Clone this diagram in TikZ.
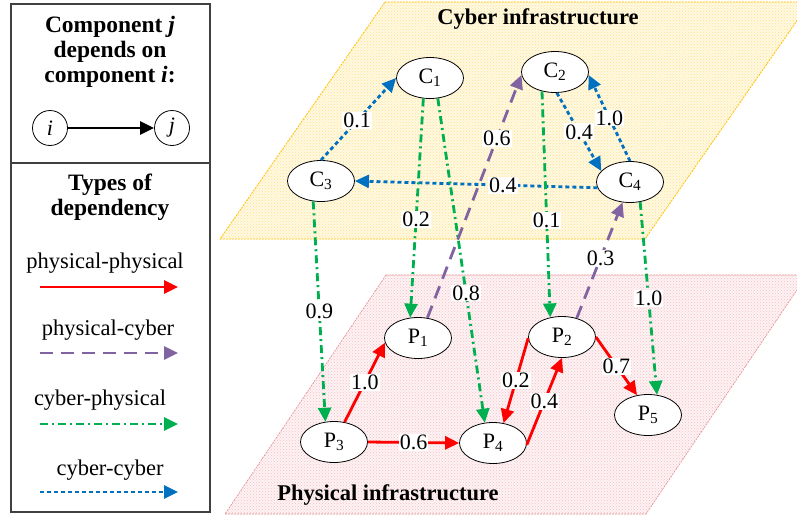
\documentclass[tikz,border=0pt]{standalone}
\usepackage{fontspec}
\setmainfont{Liberation Serif}
\usetikzlibrary{arrows.meta,shapes.geometric,patterns}

\definecolor{pp}{HTML}{FF0000}
\definecolor{pc}{HTML}{8064A2}
\definecolor{cp}{HTML}{00B050}
\definecolor{cc}{HTML}{0070C0}
\definecolor{cyberfill}{HTML}{FFF9E3}
\definecolor{cyberdot}{HTML}{FFE38A}
\definecolor{cyberedge}{HTML}{FFC000}
\definecolor{physfill}{HTML}{FDF3F4}
\definecolor{physdot}{HTML}{F5BFC4}
\definecolor{physedge}{HTML}{E48A8A}
\definecolor{boxline}{HTML}{404040}

\begin{document}
\begin{tikzpicture}[x=1pt,y=-1pt,
  comp/.style={ellipse,draw,line width=0.8pt,fill=white,minimum width=67pt,
    minimum height=41pt,inner sep=0pt,font=\fontsize{22}{24}\selectfont},
  wt/.style={fill=white,text=black,inner sep=1pt,font=\fontsize{22}{24}\selectfont},
  dep/.style={line width=2.8pt,-{Triangle[length=14pt,width=13pt]}},
  physphys/.style={dep,pp},
  physcyb/.style={dep,pc,dash pattern=on 13pt off 8pt},
  cybphys/.style={dep,cp,dash pattern=on 8pt off 4pt on 2pt off 4pt},
  cybcyb/.style={dep,cc,dash pattern=on 4pt off 3pt},
  legtext/.style={font=\fontsize{22.5}{25}\selectfont},
  legtitle/.style={font=\fontsize{23.5}{25}\selectfont\bfseries,align=center},
  planetitle/.style={font=\fontsize{22.5}{25}\selectfont\bfseries},
  plain/.style={circle,draw,line width=0.8pt,minimum size=35pt,inner sep=0pt,
    font=\fontsize{22}{24}\selectfont\itshape},
]
\useasboundingbox (0,0) rectangle (797,517);

% ---- the two infrastructure planes ----
\fill[cyberfill] (385,2) -- (810,2) -- (645,239) -- (220,239) -- cycle;
\fill[pattern=crosshatch dots,pattern color=cyberdot] (385,2) -- (810,2) -- (645,239) -- (220,239) -- cycle;
\draw[cyberedge,line width=0.8pt,dash pattern=on 2pt off 1pt] (385,2) -- (810,2) -- (645,239) -- (220,239) -- cycle;

\fill[physfill] (386,275) -- (807,275) -- (646,514) -- (225,514) -- cycle;
\fill[pattern=crosshatch dots,pattern color=physdot] (386,275) -- (807,275) -- (646,514) -- (225,514) -- cycle;
\draw[physedge,line width=0.6pt,dash pattern=on 2pt off 1pt] (386,275) -- (807,275) -- (646,514) -- (225,514) -- cycle;

\node[planetitle] (cybertitle) at (538,19) {Cyber infrastructure};
\node[planetitle] (phystitle) at (388,495) {Physical infrastructure};

% ---- components ----
\node[comp] (C1) at (430,78) {C\textsubscript{1}};
\node[comp] (C2) at (555,72) {C\textsubscript{2}};
\node[comp] (C3) at (321,181) {C\textsubscript{3}};
\node[comp] (C4) at (630,182) {C\textsubscript{4}};
\node[comp] (P1) at (418,338) {P\textsubscript{1}};
\node[comp] (P2) at (562,337) {P\textsubscript{2}};
\node[comp] (P3) at (334,442) {P\textsubscript{3}};
\node[comp] (P4) at (493,443) {P\textsubscript{4}};
\node[comp] (P5) at (648,415) {P\textsubscript{5}};

% ---- cyber-cyber ----
\draw[cybcyb] (C3.north) -- node[wt,pos=0.48]{0.1} (C1.west);
\draw[cybcyb] (C2.-85) -- node[wt,pos=0.5]{0.4} (C4.159);
\draw[cybcyb] (C4.north) -- node[wt,pos=0.5]{1.0} (C2.-5);
\draw[cybcyb] (C4.190) -- node[wt,pos=0.39]{0.4} (C3.east);

% ---- cyber-physical ----
\draw[cybphys] (C1.-108) -- node[wt,pos=0.55]{0.2} (P1.111);
\draw[cybphys] (C1.-69) -- node[wt,pos=0.6]{0.8} (P4.112);
\draw[cybphys] (C3.-111) -- node[wt,pos=0.5]{0.9} (P3.113);
\draw[cybphys] (C2.-124) -- node[wt,pos=0.57]{0.1} (P2.121);
\draw[cybphys] (C4.-63) -- node[wt,pos=0.5]{1.0} (P5.66);

% ---- physical-cyber ----
\draw[physcyb] (P1.65) -- node[wt,pos=0.74]{0.6} (C2.185);
\draw[physcyb] (P2.52) -- node[wt,pos=0.52]{0.3} (C4.-110);

% ---- physical-physical ----
\draw[physphys] (P3.62) -- node[wt,pos=0.5]{1.0} (P1.188);
\draw[physphys] (P3.east) -- node[wt,pos=0.5]{0.6} (P4.west);
\draw[physphys] (P2.182) -- node[wt,pos=0.5]{0.2} (P4.62);
\draw[physphys] (P4.-3) -- node[wt,pos=0.5]{0.4} (P2.south);
\draw[physphys] (P2.0) -- node[wt,pos=0.5]{0.7} (P5.119);

% ---- legend ----
\draw[boxline,line width=1.2pt] (11,4) rectangle (210,512);
\draw[boxline,line width=1.2pt] (11,163) -- (210,163);

\node[legtitle] (deptitle) at (110,52) {Component \textit{j}\\depends on\\component \textit{i}:};
\node[plain] (li) at (50,128) {i};
\node[plain] (lj) at (172,128) {j};
\draw[line width=2.4pt,-{Triangle[length=14pt,width=13pt]}] (li) -- (lj);

\node[legtitle] (typetitle) at (110,197) {Types of\\dependency};

\node[legtext] (tpp) at (105,263) {physical-physical};
\coordinate (ppa) at (40,287);
\coordinate (ppb) at (178,287);
\draw[physphys] (ppa) -- (ppb);

\node[legtext] (tpc) at (108,330) {physical-cyber};
\coordinate (pca) at (40,353);
\coordinate (pcb) at (178,353);
\draw[physcyb] (pca) -- (pcb);

\node[legtext] (tcp) at (100,400) {cyber-physical};
\coordinate (cpa) at (40,424);
\coordinate (cpb) at (178,424);
\draw[cybphys] (cpa) -- (cpb);

\node[legtext] (tcc) at (110,470) {cyber-cyber};
\coordinate (cca) at (40,492);
\coordinate (ccb) at (178,492);
\draw[cybcyb] (cca) -- (ccb);
\end{tikzpicture}
\end{document}
